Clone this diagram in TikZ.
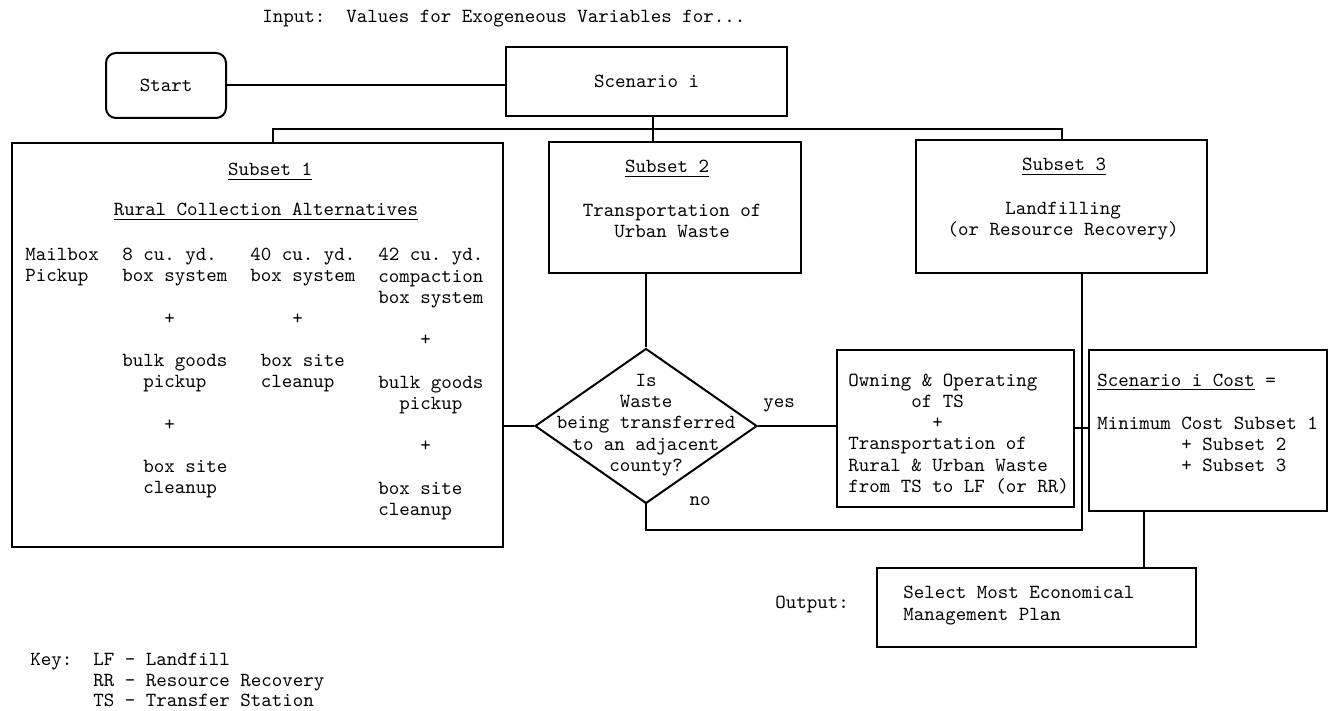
\documentclass[tikz,border=0pt]{standalone}
\usepackage{tikz}
\usetikzlibrary{shapes.geometric}

\begin{document}
\begin{tikzpicture}[x=0.5pt, y=-0.5pt,
  every node/.style={font=\ttfamily\fontsize{10}{10.6}\selectfont\frenchspacing, inner sep=0pt},
  box/.style={draw, line width=1pt, rectangle},
  decide/.style={draw, line width=1pt, diamond},
  link/.style={line width=1pt}]
  \useasboundingbox (0,0) rectangle (1335,711);

  \node[anchor=base west] (input) at (262,23) {Input:~~Values for Exogeneous Variables for...};

  \node[box, rounded corners=5pt, minimum width=60pt, minimum height=32.5pt] (start) at (166,85.5) {Start};
  \node[box, minimum width=140.5pt, minimum height=34.5pt] (scen) at (646.5,81.5) {Scenario i};
  \node[box, minimum width=245.5pt, minimum height=202pt] (sub1) at (257.5,345) {};
  \node[box, minimum width=126pt, minimum height=65.5pt] (sub2) at (675,207.5) {};
  \node[box, minimum width=145.5pt, minimum height=66.5pt] (sub3) at (1061.5,206.5) {};
  \node[decide, minimum width=111pt, minimum height=77.5pt] (dec) at (646,426) {};
  \node[box, minimum width=118.5pt, minimum height=78.5pt] (ts) at (955.5,428.5) {};
  \node[box, minimum width=119pt, minimum height=80.5pt] (cost) at (1208,430.5) {};
  \node[box, minimum width=159.5pt, minimum height=39.5pt] (out) at (1036.5,607.5) {};

  \node[anchor=base] (s1head) at (270,176) {\underline{Subset 1}};
  \node[anchor=base] (s1title) at (266,216) {\underline{Rural Collection Alternatives}};
  \node[anchor=west, align=left] (mail) at (25,267) {Mailbox\\Pickup};
  \node[anchor=west, align=left] (eight) at (122,373) {8 cu. yd.\\box system\\[10.6pt]~~~~+\\[10.6pt]bulk goods\\~~pickup\\[10.6pt]~~~~+\\[10.6pt]~~box site\\~~cleanup};
  \node[anchor=west, align=left] (forty) at (250,320) {40 cu. yd.\\box system\\[10.6pt]~~~~+\\[10.6pt]~box site\\~cleanup};
  \node[anchor=west, align=left] (fortytwo) at (378,384) {42 cu. yd.\\compaction\\box system\\[10.6pt]~~~~+\\[10.6pt]bulk goods\\~~pickup\\[10.6pt]~~~~+\\[10.6pt]box site\\cleanup};

  \node[anchor=base] (s2head) at (667,173) {\underline{Subset 2}};
  \node[align=center] (s2body) at (672,221) {Transportation of\\Urban Waste};
  \node[anchor=base] (s3head) at (1064,171) {\underline{Subset 3}};
  \node[align=center] (s3body) at (1063,221) {Landfilling\\(or Resource Recovery)};

  \node[align=center] (dectext) at (646,425) {Is\\Waste\\being transferred\\to an adjacent\\county?};
  \node[anchor=base] (yes) at (779,408) {yes};
  \node[anchor=base] (no) at (700,506) {no};

  \node[anchor=west, align=left] (tstext) at (848,434) {Owning \& Operating\\~~~~~~of TS\\~~~~~~~~+\\Transportation of\\Rural \& Urban Waste\\from TS to LF (or RR)};
  \node[anchor=west, align=left] (costtext) at (1097,423) {\underline{Scenario i Cost} =\\[10.6pt]Minimum Cost Subset 1\\~~~~~~~~+ Subset 2\\~~~~~~~~+ Subset 3};

  \node[anchor=base west] (outlabel) at (775,609) {Output:};
  \node[anchor=west, align=left] (outtext) at (903,605.5) {Select Most Economical\\Management Plan};

  \node[anchor=west, align=left, font=\ttfamily\fontsize{10}{10.2}\selectfont\frenchspacing] (key) at (30,680) {Key:~~LF - Landfill\\~~~~~~RR - Resource Recovery\\~~~~~~TS - Transfer Station};

  \coordinate (busL) at (273,129);
  \coordinate (busR) at (1062,129);
  \coordinate (drop) at (653,129);
  \coordinate (back) at (1082,530);
  \coordinate (down) at (1144,568);

  \draw[link] (start.east) -- (start.east -| scen.west);
  \draw[link] (scen.south -| drop) -- (drop |- sub2.north);
  \draw[link] (busL |- sub1.north) -- (busL) -- (busR) -- (busR |- sub3.north);
  \draw[link] (dec.north |- sub2.south) -- (dec.north);
  \draw[link] (sub1.east |- dec.west) -- (dec.west);
  \draw[link] (dec.east) -- (dec.east -| ts.west);
  \draw[link] (dec.south) -- (dec.south |- back) -- (back) -- (back |- sub3.south);
  \draw[link] (ts.east) -- (ts.east -| cost.west);
  \draw[link] (down |- cost.south) -- (down);
\end{tikzpicture}
\end{document}
